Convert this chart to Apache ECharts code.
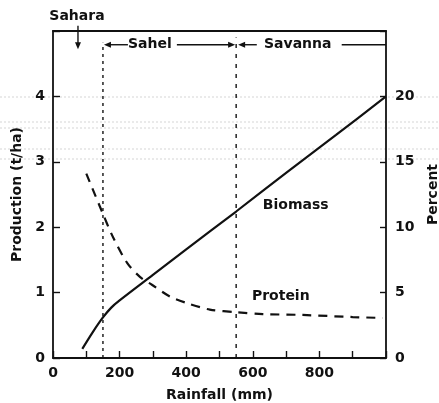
<!DOCTYPE html>
<html>
<head>
<meta charset="utf-8">
<script src="https://cdn.jsdelivr.net/npm/echarts@6/dist/echarts.min.js"></script>
<style>html,body{margin:0;padding:0;background:#fff}#c{width:439px;height:403px}</style>
</head>
<body>
<div id="c"></div>
<script>
// Data
const biomassRain = [88, 120, 150, 175, 200, 300, 400, 550, 700, 850, 1000];
const biomass     = [0.14, 0.40, 0.62, 0.77, 0.88, 1.27, 1.66, 2.24, 2.83, 3.41, 4.0];
const proteinRain = [100, 147, 180, 222, 261, 297, 351, 402, 471, 552, 630, 750, 900, 990];
const protein     = [14.1, 11.2, 9.25, 7.3, 6.2, 5.6, 4.7, 4.2, 3.7, 3.5, 3.36, 3.29, 3.13, 3.06];
const zoneEdges = [150, 550];       // Sahara/Sahel, Sahel/Savanna boundaries (mm)
const saharaAt = 75;                // Sahara arrow position (mm)
const xTicks = [0, 200, 400, 600, 800];
const leftTicks = [0, 1, 2, 3, 4];
const rightTicks = [0, 5, 10, 15, 20];

const FONT = 'DejaVu Sans';
const FS = 14;
const FW = 'bold';
const INK = '#111';
const chart = echarts.init(document.getElementById('c'));

const lbl = {fontFamily: FONT, fontSize: FS, fontWeight: FW, color: INK};
const axisLineStyle = {color: INK, width: 1.8};
const option = {
  animation: false,
  grid: {left: 53, right: 53, top: 31, bottom: 45, containLabel: false, outerBoundsMode: 'none'},
  xAxis: [{
    type: 'value', min: 0, max: 1000, interval: 100,
    name: 'Rainfall (mm)', nameLocation: 'middle', nameGap: 30,
    nameTextStyle: lbl,
    axisLine: {show: true, onZero: false, lineStyle: axisLineStyle},
    axisTick: {show: true, inside: true, length: 7, lineStyle: {color: INK, width: 1.4}},
    axisLabel: Object.assign({margin: 8, formatter: v => xTicks.indexOf(v) >= 0 ? String(v) : ''}, lbl),
    splitLine: {show: false}
  }, {
    type: 'value', min: 0, max: 1000, position: 'top',
    axisLine: {show: true, onZero: false, lineStyle: axisLineStyle},
    axisTick: {show: false}, axisLabel: {show: false}, splitLine: {show: false}
  }],
  yAxis: [{
    type: 'value', min: 0, max: 5, interval: 1,
    name: 'Production (t/ha)', nameLocation: 'middle', nameGap: 28, nameRotate: 90,
    nameTextStyle: lbl,
    axisLine: {show: true, onZero: false, lineStyle: axisLineStyle},
    axisTick: {show: true, inside: true, length: 7, lineStyle: {color: INK, width: 1.4}},
    axisLabel: Object.assign({margin: 8, formatter: v => leftTicks.indexOf(v) >= 0 ? String(v) : ''}, lbl),
    splitLine: {show: false}
  }, {
    type: 'value', min: 0, max: 25, interval: 5, position: 'right',
    name: 'Percent', nameLocation: 'middle', nameGap: 40, nameRotate: 90,
    nameTextStyle: lbl,
    axisLine: {show: true, onZero: false, lineStyle: axisLineStyle},
    axisTick: {show: true, inside: true, length: 6, lineStyle: {color: INK, width: 1.4}},
    axisLabel: Object.assign({margin: 9, formatter: v => rightTicks.indexOf(v) >= 0 ? String(v) : ''}, lbl),
    splitLine: {show: false}
  }],
  series: [{
    type: 'line', name: 'Biomass', xAxisIndex: 0, yAxisIndex: 0,
    data: biomassRain.map((x, i) => [x, biomass[i]]),
    smooth: 0.3, symbol: 'none', lineStyle: {color: INK, width: 2.2}
  }, {
    type: 'line', name: 'Protein', xAxisIndex: 0, yAxisIndex: 1,
    data: proteinRain.map((x, i) => [x, protein[i]]),
    smooth: 0.3, symbol: 'none', lineStyle: {color: INK, width: 2.2, type: [9, 7]}
  }, {
    type: 'line', xAxisIndex: 0, yAxisIndex: 0,
    data: [[zoneEdges[0], 0], [zoneEdges[0], 4.82]],
    symbol: 'none', lineStyle: {color: INK, width: 1.4, type: [3, 4]}
  }, {
    type: 'line', xAxisIndex: 0, yAxisIndex: 0,
    data: [[zoneEdges[1], 0], [zoneEdges[1], 4.9]],
    symbol: 'none', lineStyle: {color: INK, width: 1.4, type: [4, 6]}
  }]
};
chart.setOption(option);

function px(x, y) { return chart.convertToPixel({xAxisIndex: 0, yAxisIndex: 0}, [x, y]); }
function seg(a, b) {
  return {type: 'line', shape: {x1: a[0], y1: a[1], x2: b[0], y2: b[1]}, style: {stroke: INK, lineWidth: 1.4}};
}
function head(tip, dir) {
  const L = 7, W = 3;
  const bx = tip[0] - dir[0] * L, by = tip[1] - dir[1] * L;
  const nx = -dir[1], ny = dir[0];
  return {type: 'polygon', shape: {points: [[tip[0], tip[1]], [bx + nx * W, by + ny * W], [bx - nx * W, by - ny * W]]},
    style: {fill: INK}};
}
function txt(p, s) {
  return {type: 'text', x: p[0], y: p[1], style: {text: s, fill: INK, font: FW + ' ' + FS + 'px "' + FONT + '"', align: 'center', verticalAlign: 'middle'}};
}
const yA = 4.79;
const g = [];
// faint scan lines of the original print
[97, 122, 128, 149, 159].forEach(y => g.push({type: 'line', z: -1, shape: {x1: 0, y1: y, x2: 439, y2: y},
  style: {stroke: '#d6d6d6', lineWidth: 1, lineDash: [2, 2]}}));
// Sahara
g.push(txt(px(72, 5.22), 'Sahara'));
g.push(seg(px(saharaAt, 5.08), px(saharaAt, 4.78)));
g.push(head(px(saharaAt, 4.72), [0, 1]));
// Sahel
g.push(head([px(zoneEdges[0], yA)[0] + 1, px(0, yA)[1]], [-1, 0]));
g.push(seg(px(zoneEdges[0] + 15, yA), px(225, yA)));
g.push(txt(px(291, yA), 'Sahel'));
g.push(seg(px(372, yA), px(zoneEdges[1] - 15, yA)));
g.push(head([px(zoneEdges[1], yA)[0] - 1, px(0, yA)[1]], [1, 0]));
// Savanna
g.push(head([px(zoneEdges[1], yA)[0] + 2, px(0, yA)[1]], [-1, 0]));
g.push(seg(px(zoneEdges[1] + 20, yA), px(612, yA)));
g.push(txt(px(735, yA), 'Savanna'));
g.push(seg(px(867, yA), px(1000, yA)));
// Series labels
g.push(txt(px(729, 2.34), 'Biomass'));
g.push(txt(px(684, 0.95), 'Protein'));
chart.setOption({graphic: g});
</script>
</body>
</html>
